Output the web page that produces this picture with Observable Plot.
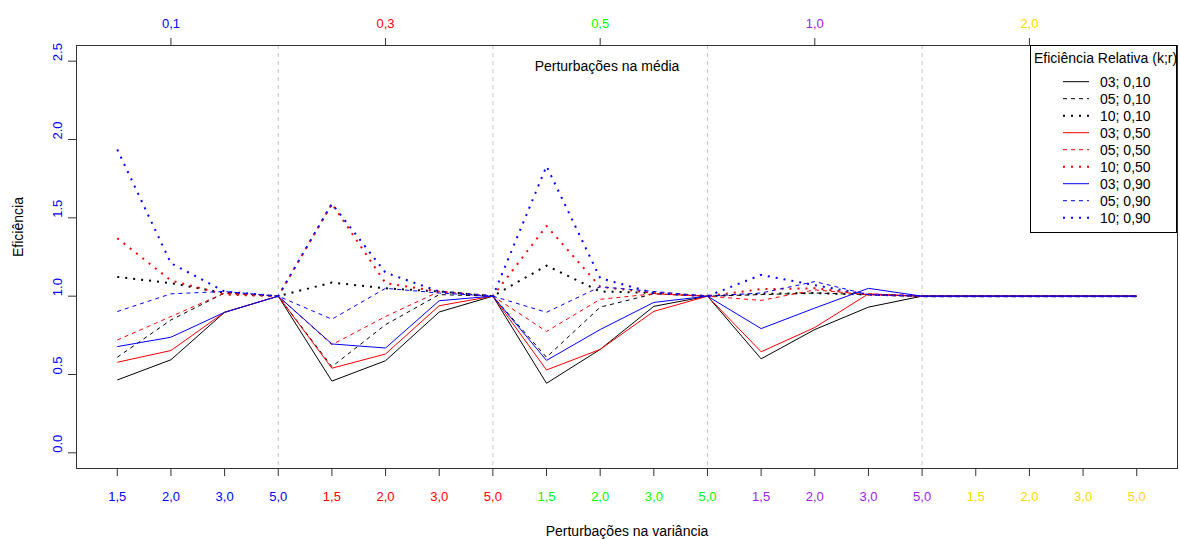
<!DOCTYPE html>
<html><head><meta charset="utf-8">
<script src="https://cdn.jsdelivr.net/npm/d3@7"></script>
<script src="https://cdn.jsdelivr.net/npm/@observablehq/plot@0.6"></script>
<style>
body{margin:0;background:#fff}
svg{font-family:"Liberation Sans",Arial,sans-serif}
</style>
</head><body><div id="chart"></div>
<script>
// ---- data ----
const varianceLabels = ["1,5","2,0","3,0","5,0","1,5","2,0","3,0","5,0","1,5","2,0","3,0","5,0","1,5","2,0","3,0","5,0","1,5","2,0","3,0","5,0"];
const meanLabels = ["0,1","0,3","0,5","1,0","2,0"];
const meanTickPos = [2,6,10,14,18];
const groupColors = ["blue","red","#00ff00","#a020f0","#ffd700"];
const yTicks = [0,0.5,1,1.5,2,2.5];
const separators = [4,8,12,16];

const seriesLabels = ["03; 0,10","05; 0,10","10; 0,10","03; 0,50","05; 0,50","10; 0,50","03; 0,90","05; 0,90","10; 0,90"];
const seriesColors = ["black","black","black","red","red","red","blue","blue","blue"];
const seriesTypes = ["solid","dashed","dotted","solid","dashed","dotted","solid","dashed","dotted"];

const s03_010 = [0.465,0.594,0.897,1.0, 0.458,0.588,0.899,1.0, 0.444,0.660,0.935,1.0, 0.600,0.787,0.930,1.0, 1.0,1.0,1.0,1.0];
const s05_010 = [0.610,0.848,1.020,1.0, 0.550,0.818,1.010,1.0, 0.610,0.930,1.015,1.0, 1.010,1.020,1.010,1.0, 1.0,1.0,1.0,1.0];
const s10_010 = [1.123,1.083,1.020,1.0, 1.087,1.050,1.030,1.0, 1.195,1.030,1.020,1.0, 1.015,1.020,1.010,1.0, 1.0,1.0,1.0,1.0];
const s03_050 = [0.578,0.653,0.897,1.0, 0.540,0.631,0.939,1.0, 0.529,0.660,0.903,1.0, 0.645,0.800,1.015,1.0, 1.0,1.0,1.0,1.0];
const s05_050 = [0.720,0.870,1.020,1.0, 0.690,0.870,1.030,1.0, 0.775,0.980,1.015,1.0, 0.973,1.040,1.010,1.0, 1.0,1.0,1.0,1.0];
const s10_050 = [1.370,1.100,1.010,1.0, 1.590,1.083,1.030,1.0, 1.448,1.060,1.020,1.0, 1.045,1.050,1.010,1.0, 1.0,1.0,1.0,1.0];
const s03_090 = [0.678,0.738,0.897,1.0, 0.695,0.669,0.971,1.0, 0.590,0.787,0.960,1.0, 0.793,0.924,1.050,1.0, 1.0,1.0,1.0,1.0];
const s05_090 = [0.902,1.015,1.030,1.0, 0.853,1.050,1.020,1.0, 0.897,1.060,1.030,1.0, 1.020,1.093,1.010,1.0, 1.0,1.0,1.0,1.0];
const s10_090 = [1.936,1.210,1.030,1.0, 1.590,1.150,1.030,1.0, 1.830,1.115,1.020,1.0, 1.136,1.070,1.010,1.0, 1.0,1.0,1.0,1.0];

const seriesValues = [s03_010,s05_010,s10_010,s03_050,s05_050,s10_050,s03_090,s05_090,s10_090];

// ---- build ----
const idx = varianceLabels.map((_, i) => i + 1);
const dashFor = t => t === "dashed" ? "4,4" : t === "dotted" ? "2,6" : null;
const widthFor = t => t === "dotted" ? 2 : 1;

const lineMarks = seriesValues.map((vals, si) =>
  Plot.line(vals.map((v, i) => ({x: i + 1, y: v})), {
    x: "x", y: "y",
    stroke: seriesColors[si],
    strokeWidth: widthFor(seriesTypes[si]),
    strokeDasharray: dashFor(seriesTypes[si]),
    strokeLinecap: "butt"
  })
);

const plot = Plot.plot({
  width: 1180, height: 539,
  marginLeft: 76, marginRight: 3, marginTop: 45, marginBottom: 71,
  x: {domain: [0.24, 20.76], label: null},
  y: {domain: [-0.1, 2.6], label: null},
  color: {type: "identity"},
  style: {fontFamily: "Liberation Sans, Arial, sans-serif", fontSize: "13px", background: "white", color: "black"},
  marks: [
    Plot.ruleX(separators, {stroke: "#c4c4c4", strokeDasharray: "4,4"}),
    ...lineMarks,
    Plot.frame({stroke: "#333"}),
    Plot.axisX({anchor: "bottom", ticks: idx, tickFormat: () => "", tickSize: 8, stroke: "#333", label: null}),
    Plot.axisX({anchor: "top", ticks: meanTickPos, tickFormat: () => "", tickSize: 8, stroke: "#333", label: null}),
    Plot.axisY({anchor: "left", ticks: yTicks, tickFormat: () => "", tickSize: 8, stroke: "#333", label: null}),
    Plot.text(idx, {x: d => d, text: d => varianceLabels[d - 1], fill: d => groupColors[Math.floor((d - 1) / 4)], frameAnchor: "bottom", dy: 32, fontSize: 13}),
    Plot.text(meanTickPos, {x: d => d, text: (d, i) => meanLabels[i], fill: (d, i) => groupColors[i], frameAnchor: "top", dy: -27, fontSize: 13}),
    Plot.text(yTicks, {y: d => d, text: d => d.toFixed(1), fill: "blue", rotate: -90, frameAnchor: "left", dx: -19, fontSize: 13}),
    Plot.text(["Perturbações na média"], {frameAnchor: "top", dx: -20, dy: 16, fontSize: 14, fill: "black"}),
    Plot.text(["Perturbações na variância"], {frameAnchor: "bottom", dy: 67, fontSize: 14, fill: "black"}),
    Plot.text(["Eficiência"], {frameAnchor: "left", rotate: -90, dx: -58, fontSize: 14, fill: "black"})
  ]
});

// legend drawn inside the svg
const svg = d3.select(plot);
const lg = svg.append("g").attr("font-family", "Liberation Sans, Arial, sans-serif").attr("font-size", 14).attr("text-anchor", "start");
lg.append("rect").attr("x", 1030.5).attr("y", 45.5).attr("width", 146).attr("height", 187)
  .attr("fill", "white").attr("stroke", "black");
lg.append("text").attr("x", 1034).attr("y", 58).attr("dy", "0.35em").attr("text-anchor", "start").attr("fill", "black").text("Eficiência Relativa (k;r)");
seriesLabels.forEach((lab, i) => {
  const y = 81.7 + i * 17;
  lg.append("line").attr("x1", 1063).attr("x2", 1089).attr("y1", y).attr("y2", y)
    .attr("stroke", seriesColors[i]).attr("stroke-width", widthFor(seriesTypes[i]))
    .attr("stroke-dasharray", dashFor(seriesTypes[i]));
  lg.append("text").attr("x", 1100).attr("y", y).attr("dy", "0.35em").attr("text-anchor", "start").attr("fill", "black").text(lab);
});

document.getElementById("chart").appendChild(plot);
</script>
</body></html>
